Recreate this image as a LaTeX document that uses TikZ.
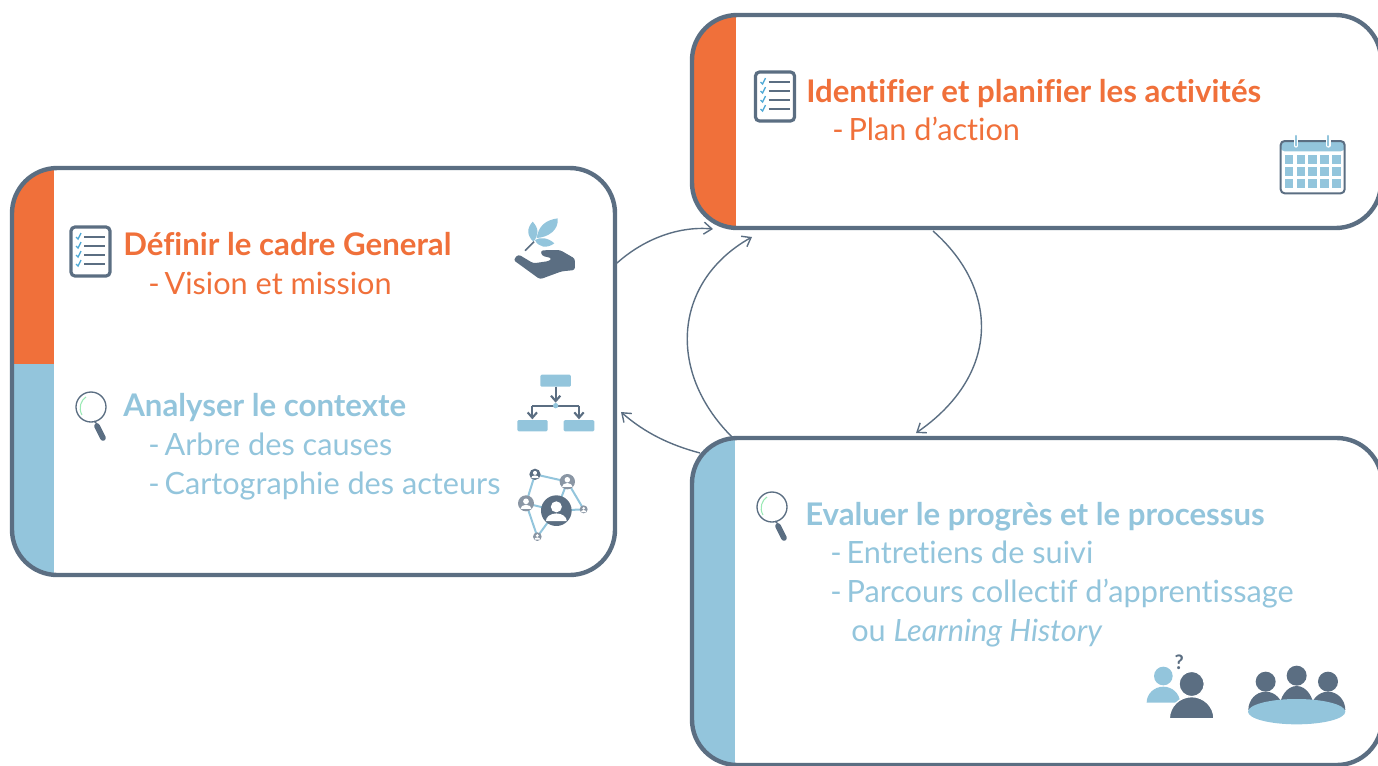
\documentclass[tikz,border=0pt]{standalone}
\usepackage{fontspec}
\setmainfont{Lato}[Ligatures=NoCommon]
\usetikzlibrary{arrows.meta}
\definecolor{slateline}{HTML}{5B6E82}
\definecolor{accentorange}{HTML}{F0703A}
\definecolor{accentblue}{HTML}{93C5DC}
\definecolor{checkblue}{HTML}{4FA9D6}
\definecolor{peergrey}{HTML}{8A96A4}
\newcommand{\headfont}{\fontsize{23.4}{30}\selectfont\bfseries}
\newcommand{\itemfont}{\fontsize{23}{30}\selectfont}
\newcommand{\tightdash}{-\hspace{-2.2pt} }
% icons, given in pixels of the left panel and moved by a shift
\newcommand{\checklistmark}[2]{
  \begin{scope}[shift={(#1,#2)}]
    \draw[slateline,line width=2.4pt,rounded corners=3pt,fill=white] (71,227) rectangle (110,276);
    \foreach \yy in {237,246,255,264} {
      \draw[slateline,line width=1.1pt] (84,\yy) -- (105,\yy);
      \draw[checkblue,line width=1pt] (76,\yy) -- (78,\yy+2) -- (81,\yy-4);
    }
  \end{scope}
}
\newcommand{\lensmark}[2]{
  \begin{scope}[shift={(#1,#2)}]
    \draw[slateline,line width=1pt] (91,407) circle (15);
    \draw[accentblue!60!green!60,line width=0.8pt] (82,415) .. controls (78,408) and (81,400) .. (86,397);
    \draw[slateline,line width=1pt] (94,421) -- (97,424);
    \draw[slateline,line width=4.2pt,line cap=round] (97,426) -- (103,438);
  \end{scope}
}
\tikzset{
  panel/.style={draw=slateline,line width=3.3pt,rounded corners=34pt,inner sep=0pt},
  heading/.style={anchor=base west,inner sep=0pt,font=\headfont},
  entry/.style={anchor=base west,inner sep=0pt,font=\itemfont},
  loopline/.style={draw=slateline,line width=1.05pt,->,>={Straight Barb[length=6pt,width=9pt]}},
  treeline/.style={draw=slateline,line width=1.6pt}
}
\begin{document}
\begin{tikzpicture}[x=0.75pt,y=0.75pt,yscale=-1,xscale=1]
\useasboundingbox (0,0) rectangle (1378,765);

% Panels
\node[panel,minimum width=452.25pt,minimum height=305.25pt,path picture={
    \fill[accentorange,sharp corners] (path picture bounding box.north west) rectangle ([xshift=31.5pt,yshift=-147pt]path picture bounding box.north west);
    \fill[accentblue,sharp corners] ([yshift=-147pt]path picture bounding box.north west) rectangle ([xshift=31.5pt]path picture bounding box.south west);
  }] (cadre) at (313.5,371.5) {};
\node[panel,minimum width=516.75pt,minimum height=159.75pt,path picture={
    \fill[accentorange,sharp corners] (path picture bounding box.north west) rectangle ([xshift=33pt]path picture bounding box.south west);
  }] (plan) at (1036.5,121.5) {};
\node[panel,minimum width=517.5pt,minimum height=245.25pt,path picture={
    \fill[accentblue,sharp corners] (path picture bounding box.north west) rectangle ([xshift=32pt]path picture bounding box.south west);
  }] (suivi) at (1037,601.5) {};

% Loop
\coordinate (cadreout) at (617,263);
\coordinate (planin) at (713,229);
\coordinate (suivistart) at (732,437);
\coordinate (planback) at (752,237);
\coordinate (planout) at (933,231);
\coordinate (suiviin) at (916,433);
\coordinate (suiviout) at (700,453);
\coordinate (cadrein) at (621,412);
\draw[loopline] (cadreout) .. controls (645,238) and (680,226) .. (planin);
\draw[loopline] (suivistart) .. controls (665,370) and (675,280) .. (planback);
\draw[loopline] (planout) .. controls (1000,290) and (1000,375) .. (suiviin);
\draw[loopline] (suiviout) .. controls (670,445) and (645,433) .. (cadrein);

% Text
\node[heading,text=accentorange] (cadrehead) at (123,255) {Définir le cadre General};
\node[entry,text=accentorange] (cadreitem) at (148,294) {\tightdash Vision et mission};
\node[heading,text=accentblue] (contexthead) at (123,416) {Analyser le contexte};
\node[entry,text=accentblue] (contextone) at (148,455) {\tightdash Arbre des causes};
\node[entry,text=accentblue] (contexttwo) at (148,494) {\tightdash Cartographie des acteurs};
\node[heading,text=accentorange] (planhead) at (806,102) {Identifier et planifier les activités};
\node[entry,text=accentorange] (planitem) at (832,140) {\tightdash Plan d’action};
\node[heading,text=accentblue] (suivihead) at (805,525) {Evaluer le progrès et le processus};
\node[entry,text=accentblue] (suivione) at (830,563) {\tightdash Entretiens de suivi};
\node[entry,text=accentblue] (suivitwo) at (830,602) {\tightdash Parcours collectif d’apprentissage};
\node[entry,text=accentblue] (suivithree) at (851,641) {ou \textit{Learning History}};

% Icons
\checklistmark{0}{0}
\checklistmark{684.5}{-155}
\lensmark{0}{0}
\lensmark{681}{100}

% Hand
\begin{scope}[shift={(490,200)},scale=0.3333]
\fill[accentblue] (128,65) .. controls (110,85) and (110,105) .. (130,125) .. controls (147,105) and (147,85) .. (128,65) -- cycle;
\fill[accentblue] (203,55) .. controls (165,60) and (145,80) .. (140,114) .. controls (175,112) and (207,90) .. (203,55) -- cycle;
\fill[accentblue] (135,120) .. controls (150,110) and (175,113) .. (193,130) .. controls (170,147) and (145,142) .. (135,120) -- cycle;
\draw[slateline,line width=1.2pt] (105,152) -- (132,125);
\fill[slateline,rounded corners=2pt] (152,151) -- (210,150) -- (255,176) -- (255,210) -- (215,214) -- (150,238) -- (70,180) -- (85,163) -- (130,190) -- (178,183) -- (186,175) -- (155,167) -- cycle;
\end{scope}

% Tree
\begin{scope}[shift={(490,360)},scale=0.3333]
\fill[accentblue,rounded corners=1pt] (151,44) rectangle (243,80);
\fill[accentblue,rounded corners=1pt] (82,180) rectangle (173,214);
\fill[accentblue,rounded corners=1pt] (221,180) rectangle (313,214);
\draw[treeline,-{Straight Barb[length=4pt,width=7pt]}] (197,80) -- (197,128);
\draw[treeline,-{Straight Barb[length=4pt,width=7pt]}] (127,137) -- (127,178);
\draw[treeline,-{Straight Barb[length=4pt,width=7pt]}] (267,137) -- (267,178);
\draw[treeline] (127,137) -- (267,137);
\fill[accentblue] (197,137) circle (8);
\end{scope}

% Network
\begin{scope}[shift={(490,360)},scale=0.3333]
\coordinate (peera) at (135,343);
\coordinate (peerb) at (232,365);
\coordinate (peerc) at (108,430);
\coordinate (peerd) at (199,452);
\coordinate (peere) at (281,448);
\coordinate (peerf) at (142,530);
\draw[accentblue,line width=1.5pt] (peera) -- (peerb) -- (peerd) (peera) -- (peerc) -- (peerd) -- (peerf) -- (peerc) (peerb) -- (peere) -- (peerd);
\foreach \px/\py/\pr/\pc in {135/343/17/slateline,232/365/23/peergrey,108/430/24/peergrey,199/452/46/slateline,281/448/12/peergrey,142/530/13/peergrey} {
  \fill[\pc] (\px,\py) circle (\pr);
  \fill[white] (\px,\py-0.25*\pr) circle (0.36*\pr);
  \fill[white] (\px-0.68*\pr,\py+0.68*\pr) arc[start angle=180,end angle=360,x radius=0.68*\pr,y radius=0.5*\pr] -- cycle;
}
\end{scope}

% Calendar
\begin{scope}[shift={(1260,120)},scale=0.3333]
\fill[accentblue,rounded corners=3pt] (62,63) rectangle (254,94);
\draw[slateline,line width=1.5pt,rounded corners=3pt] (62,63) rectangle (254,220);
\foreach \cx in {74,110,145,180,216} \foreach \cy in {106,142,177}
  \fill[accentblue] (\cx,\cy) rectangle (\cx+26,\cy+26);
\foreach \cx in {108,205} {
  \draw[white,line width=3.5pt,line cap=round] (\cx,48) -- (\cx,76);
  \draw[accentblue,line width=1.6pt,line cap=round] (\cx,48) -- (\cx,76);
}
\end{scope}

% People
\begin{scope}[shift={(1130,630)},scale=0.3333]
\fill[accentblue] (100,138) circle (28);
\fill[accentblue] (50,218) arc[start angle=180,end angle=360,x radius=50,y radius=48] -- cycle;
\draw[white,line width=1pt,fill=slateline] (185,162) circle (38);
\draw[white,line width=1pt,fill=slateline] (118,266) arc[start angle=180,end angle=360,x radius=67,y radius=66] -- cycle;
\node[text=slateline,inner sep=0pt,font=\fontsize{15}{15}\selectfont\bfseries] (query) at (148,96) {?};
\foreach \tx/\ty/\bt in {407/155/185,594/155/185,500/137/168} {
  \fill[slateline] (\tx,\ty) circle (30);
  \fill[slateline] (\tx-52,240) arc[start angle=180,end angle=360,x radius=52,y radius=240-\bt] -- cycle;
}
\fill[accentblue] (500,245) ellipse [x radius=146,y radius=38];
\end{scope}
\end{tikzpicture}
\end{document}
